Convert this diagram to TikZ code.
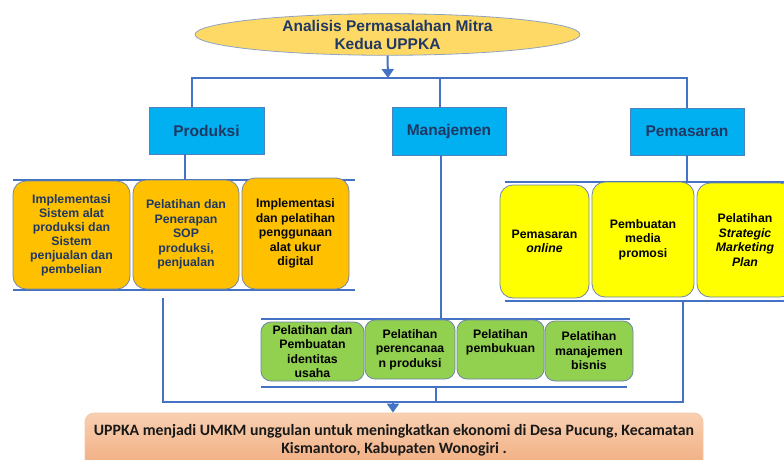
\documentclass[tikz,border=0pt]{standalone}
\usepackage{fontspec}
\setmainfont{Liberation Sans}
\newfontfamily\calib{Carlito}
\usetikzlibrary{shapes.geometric,arrows.meta}
\definecolor{lineblue}{HTML}{4472C4}
\definecolor{navy}{HTML}{1F3864}
\definecolor{ellfill}{HTML}{FFD966}
\definecolor{ellborder}{HTML}{8FA3C0}
\definecolor{catfill}{HTML}{00B0F0}
\definecolor{catborder}{HTML}{4F81BD}
\definecolor{orangefill}{HTML}{FFC000}
\definecolor{yellowfill}{HTML}{FFFF00}
\definecolor{greenfill}{HTML}{92D050}
\definecolor{pillborder}{HTML}{6F86A8}
\definecolor{outtop}{HTML}{F8D0B2}
\definecolor{outbot}{HTML}{F0A878}
\definecolor{outborder}{HTML}{F6C7A6}
\begin{document}
\begin{tikzpicture}[x=1pt,y=-1pt,
  conn/.style={draw=lineblue,line width=2pt},
  bar/.style={draw=lineblue,line width=2.8pt},
  tip/.style={-{Triangle[width=12pt,length=9pt]}},
  catbox/.style={rectangle,fill=catfill,draw=catborder,line width=0.8pt,inner sep=0pt,
    text=navy,font=\fontsize{15.5}{18}\selectfont\bfseries},
  pill/.style={rectangle,rounded corners=13pt,draw=pillborder,line width=0.8pt,inner sep=0pt,
    align=center,font=\fontsize{12.3}{14.5}\selectfont\bfseries},
  opill/.style={pill,fill=orangefill,text=navy},
  ypill/.style={pill,fill=yellowfill,text=black},
  gpill/.style={pill,fill=greenfill,text=black,rounded corners=10pt},
]
\useasboundingbox (0,0) rectangle (784,459);

% coordinates for connector junctions
\coordinate (hub) at (388,78);
\coordinate (jL) at (192,78);
\coordinate (jR) at (687,78);
\coordinate (jM) at (440,78);
\coordinate (pd) at (185,180);
\coordinate (md) at (441,319);
\coordinate (yd) at (687,182);
\coordinate (oTL) at (13,180);
\coordinate (oTR) at (355,180);
\coordinate (oBL) at (13,290);
\coordinate (oBR) at (355,290);
\coordinate (yTL) at (505,182);
\coordinate (yTR) at (790,182);
\coordinate (yBL) at (505,301);
\coordinate (yBR) at (790,301);
\coordinate (gTL) at (261,319);
\coordinate (gTR) at (630,319);
\coordinate (gBL) at (261,387);
\coordinate (gBR) at (627,387);
\coordinate (lA) at (163,298);
\coordinate (lB) at (163,402);
\coordinate (lC) at (683,402);
\coordinate (lD) at (683,301);
\coordinate (gb1) at (436,387);
\coordinate (gb2) at (436,402);
\coordinate (arr) at (393,402);

% group bars (behind boxes)
\draw[bar] (oTL) -- (oTR);
\draw[bar] (oBL) -- (oBR);
\draw[bar] (yTL) -- (yTR);
\draw[bar] (yBL) -- (yBR);
\draw[bar] (gTL) -- (gTR);
\draw[bar] (gBL) -- (gBR);

% top ellipse
\node[ellipse,fill=ellfill,draw=ellborder,line width=0.8pt,inner sep=0pt,
  minimum width=385pt,minimum height=36pt,align=center,text=navy,
  font=\fontsize{15.5}{18}\selectfont\bfseries] (ell) at (387.5,34.5)
  {Analisis Permasalahan Mitra\\Kedua UPPKA};

% category boxes
\node[catbox,minimum width=115pt,minimum height=47pt] (prod) at (206.5,130.5) {Produksi};
\node[catbox,minimum width=114pt,minimum height=48pt] (man) at (449,131) {Manajemen};
\node[catbox,minimum width=114pt,minimum height=47pt] (pem) at (687,131.5) {Pemasaran};

% orange boxes
\node[opill,minimum width=117pt,minimum height=108pt,font=\fontsize{12.3}{14}\selectfont\bfseries] (o1) at (71.5,235)
  {Implementasi\\Sistem alat\\produksi dan\\Sistem\\penjualan dan\\pembelian};
\node[opill,minimum width=106pt,minimum height=109pt] (o2) at (186,234.5)
  {Pelatihan dan\\Penerapan\\SOP\\produksi,\\penjualan};
\node[opill,minimum width=107pt,minimum height=111pt,text=black!85!navy] (o3) at (295.5,233.5)
  {Implementasi\\dan pelatihan\\penggunaan\\alat ukur\\digital};

% yellow boxes
\node[ypill,minimum width=89pt,minimum height=113pt] (y1) at (544.5,241.5)
  {Pemasaran\\\textit{online}};
\node[ypill,minimum width=102pt,minimum height=115pt] (y2) at (643,239.5)
  {Pembuatan\\media\\promosi};
\node[ypill,minimum width=96pt,minimum height=114pt] (y3) at (745,240)
  {Pelatihan\\\textit{Strategic}\\\textit{Marketing}\\\textit{Plan}};

% green boxes
\node[gpill,minimum width=103pt,minimum height=59pt] (g1) at (312.5,351.5)
  {Pelatihan dan\\Pembuatan\\identitas\\usaha};
\node[gpill,minimum width=90pt,minimum height=59pt] (g2) at (410,349.5)
  {Pelatihan\\perencanaa\\n produksi};
\node[gpill,minimum width=87pt,minimum height=59pt,text depth=17pt] (g3) at (500.5,349.5)
  {Pelatihan\\pembukuan};
\node[gpill,minimum width=88pt,minimum height=60pt] (g4) at (589,351)
  {Pelatihan\\manajemen\\bisnis};

% bottom outcome box
\node[rectangle,rounded corners=9pt,top color=outtop,bottom color=outbot,draw=outborder,
  line width=0.8pt,minimum width=618pt,minimum height=62pt,inner sep=0pt] (out) at (394,444) {};
\node[align=center,inner sep=0pt,font=\calib\fontsize{15.8}{18}\selectfont\bfseries,text=black!90] (outtxt) at (394,440)
  {UPPKA menjadi UMKM unggulan untuk meningkatkan ekonomi di Desa Pucung, Kecamatan\\Kismantoro, Kabupaten Wonogiri .};

% connectors
\draw[conn,tip] (ell.south) -- (hub);
\draw[conn] (prod.north -| jL) -- (jL) -- (jR) -- (pem.north);
\draw[conn] (jM) -- (man.north -| jM);
\draw[conn] (prod.south -| pd) -- (pd);
\draw[conn] (man.south -| md) -- (md);
\draw[conn] (pem.south) -- (yd);
\draw[conn] (lA) -- (lB) -- (lC) -- (lD);
\draw[conn] (gb1) -- (gb2);
\draw[conn,tip] (arr) -- (out.north -| arr);
\end{tikzpicture}
\end{document}
